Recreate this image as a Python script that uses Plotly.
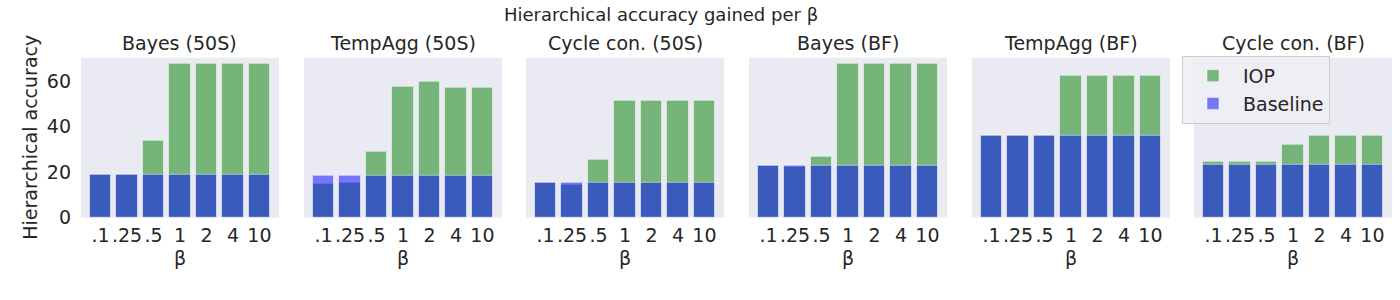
import plotly.graph_objects as go

betas = [".1", ".25", ".5", "1", "2", "4", "10"]
titles = ["Bayes (50S)", "TempAgg (50S)", "Cycle con. (50S)", "Bayes (BF)", "TempAgg (BF)", "Cycle con. (BF)"]

iop_bayes_50s = [18.9, 18.9, 34.0, 67.6, 67.6, 67.6, 67.6]
base_bayes_50s = [18.7, 18.7, 18.7, 18.7, 18.7, 18.7, 18.7]
iop_tempagg_50s = [14.8, 15.2, 28.9, 57.5, 59.6, 57.1, 57.0]
base_tempagg_50s = [18.3, 18.3, 18.3, 18.3, 18.3, 18.3, 18.3]
iop_cycle_50s = [15.2, 14.5, 25.5, 51.6, 51.6, 51.6, 51.6]
base_cycle_50s = [15.2, 15.2, 15.2, 15.2, 15.2, 15.2, 15.2]
iop_bayes_bf = [22.8, 22.6, 26.6, 67.6, 67.6, 67.6, 67.6]
base_bayes_bf = [22.8, 22.8, 22.8, 22.8, 22.8, 22.8, 22.8]
iop_tempagg_bf = [36.1, 36.1, 36.1, 62.6, 62.6, 62.6, 62.6]
base_tempagg_bf = [36.1, 36.1, 36.1, 36.1, 36.1, 36.1, 36.1]
iop_cycle_bf = [24.5, 24.5, 24.5, 32.1, 35.9, 35.9, 35.9]
base_cycle_bf = [23.4, 23.4, 23.4, 23.4, 23.4, 23.4, 23.4]

iop = [iop_bayes_50s, iop_tempagg_50s, iop_cycle_50s, iop_bayes_bf, iop_tempagg_bf, iop_cycle_bf]
base = [base_bayes_50s, base_tempagg_50s, base_cycle_50s, base_bayes_bf, base_tempagg_bf, base_cycle_bf]

W, H = 1400, 300


def px(x):
    return x / W


def py(y):
    return 1 - y / H


lefts = [81, 304, 526, 749, 972, 1194]
pw = 198
top, bottom = 60, 226
FONT = "DejaVu Sans"
TXT = "#262626"
FS = 19

fig = go.Figure()
ann = []
for i in range(6):
    xa = "x" if i == 0 else f"x{i+1}"
    ya = "y" if i == 0 else f"y{i+1}"
    fig.add_trace(go.Bar(x=betas, y=iop[i], name="IOP", width=0.8,
                         marker=dict(color="rgba(0,128,0,0.5)", line=dict(color="rgba(255,255,255,0.5)", width=1)),
                         xaxis=xa, yaxis=ya, showlegend=(i == 0), legendgroup="iop"))
    fig.add_trace(go.Bar(x=betas, y=base[i], name="Baseline", width=0.8,
                         marker=dict(color="rgba(0,0,255,0.5)", line=dict(color="rgba(255,255,255,0.5)", width=1)),
                         xaxis=xa, yaxis=ya, showlegend=(i == 0), legendgroup="base"))
    xkey = "xaxis" if i == 0 else f"xaxis{i+1}"
    ykey = "yaxis" if i == 0 else f"yaxis{i+1}"
    fig.layout[xkey] = dict(domain=[px(lefts[i]), px(lefts[i] + pw)], anchor=ya,
                            type="category", range=[-0.74, 6.74], showgrid=False, zeroline=False,
                            ticks="", ticklabelstandoff=4,
                            tickfont=dict(size=FS, color=TXT, family=FONT), showline=False)
    fig.layout[ykey] = dict(domain=[py(bottom), py(top)], anchor=xa,
                            range=[0, 70.3], showgrid=False, zeroline=False, showline=False,
                            tickvals=[0, 20, 40, 60], showticklabels=(i == 0), ticks="",
                            ticklabelstandoff=9,
                            tickfont=dict(size=FS, color=TXT, family=FONT))
    cx = px(lefts[i] + pw / 2)
    ann.append(dict(text=titles[i], x=cx, y=py(45), xref="paper", yref="paper",
                    showarrow=False, font=dict(size=FS, color=TXT, family=FONT), xanchor="center", yanchor="middle"))
    ann.append(dict(text="β", x=cx, y=py(268), xref="paper", yref="paper",
                    showarrow=False, font=dict(size=FS, color=TXT, family=FONT), xanchor="center", yanchor="middle"))

ann.append(dict(text="Hierarchical accuracy gained per β", x=px(661), y=py(15), xref="paper", yref="paper",
                showarrow=False, font=dict(size=18, color=TXT, family=FONT), xanchor="center", yanchor="middle"))
ann.append(dict(text="Hierarchical accuracy", x=px(30), y=py(143), xref="paper", yref="paper",
                textangle=-90, showarrow=False, font=dict(size=FS, color=TXT, family=FONT),
                xanchor="center", yanchor="middle"))

fig.update_layout(
    width=W, height=H, barmode="overlay", bargap=0,
    margin=dict(l=0, r=0, t=0, b=0),
    paper_bgcolor="white", plot_bgcolor="#EAEAF2",
    annotations=ann,
    font=dict(family=FONT, color=TXT, size=FS),
    legend=dict(x=px(1182), y=py(58), xanchor="left", yanchor="top",
                bgcolor="rgba(238,238,244,0.9)", bordercolor="#CCCCCC", borderwidth=1,
                itemwidth=50, tracegroupgap=0,
                font=dict(size=FS, color=TXT, family=FONT)),
)

fig.write_html("out.html", config={"displayModeBar": False},
               post_script="document.body.style.margin='0';document.body.style.padding='0';document.body.style.overflow='hidden';")
